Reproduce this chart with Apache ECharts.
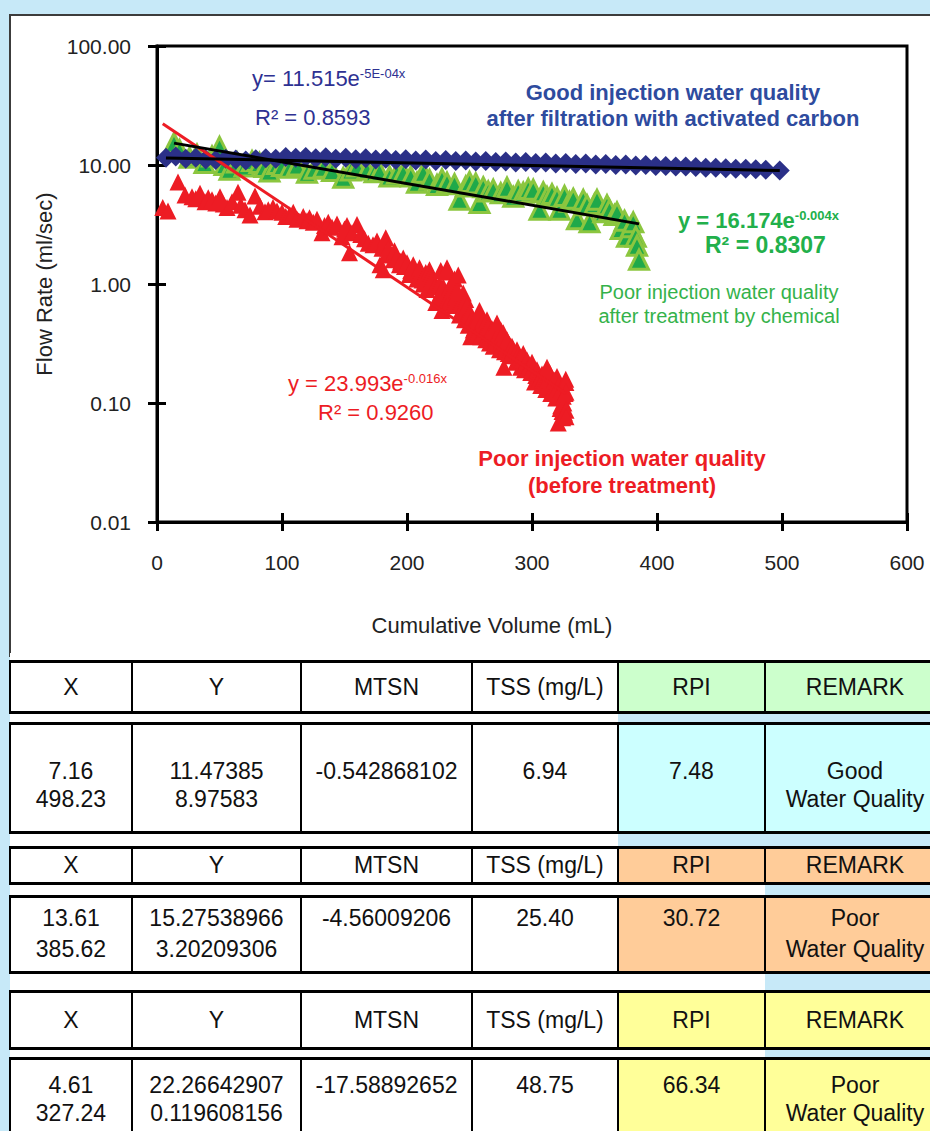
<!DOCTYPE html>
<html>
<head>
<meta charset="utf-8">
<script src="https://cdn.jsdelivr.net/npm/echarts/dist/echarts.min.js"></script>
<style>
    body { margin: 0; width: 930px; height: 1131px; overflow: hidden; background: #c7e9f8; position: relative;
        font-family: 'Liberation Sans', Arial, sans-serif; }
    #panel { position: absolute; left: 9px; top: 14px; width: 940px; height: 639px; background: #fff; border: 2px solid #3c3c3c; }
    #chart { position: absolute; left: 0; top: 0; width: 930px; height: 660px; }
    .wb { position: absolute; background: #fff; }
    .cell { position: absolute; box-sizing: border-box; border: 3px solid #000; border-left-width: 2px; border-right-width: 2px;
        font-size: 23px; color: #111; text-align: center; }
    .head { display: flex; align-items: center; justify-content: center; }
</style>
</head>
<body>
<div id="panel"></div>
<div class="wb" style="left:10px;top:653px;width:925px;height:8px"></div>
<div class="wb" style="left:10px;top:655px;width:608px;height:193px"></div>
<div class="wb" style="left:10px;top:847px;width:755px;height:284px"></div>
<div id="tables"></div>
<div id="chart"></div>
<script>
    // 数据
    var bluePts = [[7.2, 11.5], [15, 11.8], [23, 11.3], [31, 11.5], [39, 11.1], [47, 11.0], [55, 11.3], [63, 11.1], [71, 10.9], [79, 11.2],
        [87, 11.4], [95, 11.3], [103, 11.7], [111, 11.5], [119, 11.7], [127, 11.4], [135, 11.6], [143, 11.3], [151, 11.5], [159, 11.2],
        [167, 11.4], [175, 11.1], [183, 11.3], [191, 11.0], [199, 11.2], [207, 10.9], [215, 11.1], [223, 10.8], [231, 11.0], [239, 10.8],
        [247, 10.9], [255, 10.7], [263, 10.8], [271, 10.6], [279, 10.7], [287, 10.5], [295, 10.6], [303, 10.4], [311, 10.5], [319, 10.3],
        [327, 10.4], [335, 10.2], [343, 10.3], [351, 10.1], [359, 10.2], [367, 10.0], [375, 10.1], [383, 9.9], [391, 10.0], [399, 9.8],
        [407, 9.8], [415, 9.7], [423, 9.7], [431, 9.6], [439, 9.5], [447, 9.5], [455, 9.4], [463, 9.3], [471, 9.3], [479, 9.2],
        [487, 9.1], [498.2, 8.98]];
    var greenPts = [[13.6, 15.3], [18, 13.4], [26, 11.5], [32, 12.2], [38, 10.4], [44, 11.8], [50, 14.2], [54, 10.0], [58, 9.1], [64, 10.5],
        [70, 9.7], [76, 10.8], [82, 10.4], [86, 9.6], [90, 8.8], [96, 10.2], [100, 9.8], [106, 9.5], [112, 9.9], [120, 8.6],
        [126, 9.3], [133, 9.5], [140, 8.9], [149, 7.8], [155, 9.0], [160, 9.7], [168, 9.1], [174, 8.7], [178, 8.8], [186, 8.0],
        [192, 8.5], [197, 8.6], [203, 8.0], [208, 7.1], [213, 8.6], [218, 7.5], [224, 6.8], [228, 7.6], [232, 7.1], [238, 6.9],
        [242, 5.1], [247, 6.6], [250, 7.2], [255, 7.0], [258, 4.8], [261, 6.5], [265, 6.0], [269, 6.2], [275, 5.8], [280, 6.45],
        [285, 5.4], [289, 6.0], [293, 5.85], [297, 6.3], [301, 6.2], [306, 4.2], [309, 5.9], [312, 5.4], [316, 5.7], [320, 5.3],
        [322, 4.2], [326, 5.5], [330, 4.9], [333, 5.2], [336, 3.5], [341, 5.1], [344, 4.6], [346, 3.3], [350, 4.7], [352, 5.1],
        [357, 4.0], [360, 4.6], [362, 4.2], [366, 3.8], [368, 4.0], [371, 2.9], [374, 3.4], [376, 2.5], [379, 3.0], [381, 3.3],
        [383, 2.5], [384, 2.1], [385.6, 1.6]];
    var redPts = [[4.6, 4.4], [8.8, 4.1], [16.8, 7.2], [22.4, 5.6], [28, 5.4], [31, 5.2], [34.4, 5.8], [38.4, 4.9], [41, 5.3], [44, 5.1],
        [47, 4.8], [50.4, 5.4], [53, 4.7], [56, 4.4], [60, 4.9], [64.8, 5.9], [67, 4.6], [70.4, 4.2], [74.4, 3.8], [78.4, 5.5],
        [82.4, 4.5], [86.4, 4.05], [89, 4.2], [92.8, 4.4], [96, 4.1], [100, 4.0], [103, 3.7], [106, 3.8], [109, 4.0], [112, 3.5],
        [117, 3.7], [120, 3.4], [122, 3.6], [125, 3.3], [128, 3.5], [132, 2.7], [134, 3.1], [137, 3.3], [140, 3.0], [144, 3.2],
        [148, 2.5], [150, 2.9], [152, 3.1], [154, 1.83], [156, 2.7], [160, 3.16], [163, 2.6], [166, 2.4], [169, 2.2], [172.8, 2.14],
        [176, 2.3], [178.4, 1.45], [180, 2.0], [181, 1.32], [183, 2.45], [184, 1.8], [185, 2.0], [187, 1.75], [189, 1.6], [190, 1.9],
        [192, 1.69], [194, 1.45], [195, 1.55], [197, 1.65], [198, 1.4], [200, 1.51], [202, 1.2], [203, 1.3], [205, 1.45], [206, 1.2],
        [208, 1.1], [210, 1.37], [212, 1.08], [213, 1.0], [215, 1.25], [216, 0.9], [218, 1.32], [219, 1.2], [220, 1.1], [222, 0.95],
        [223, 0.7], [225, 0.78], [226, 1.0], [227, 1.3], [228, 0.6], [229, 0.95], [230, 0.85], [231, 0.7], [232, 1.37], [233, 1.26],
        [234, 0.95], [235, 0.75], [236, 0.89], [237, 0.66], [238, 1.1], [239, 0.78], [240, 0.89], [241, 1.19], [242, 0.55], [243, 0.7],
        [244, 0.62], [245, 0.84], [246, 0.5], [247, 0.74], [248, 0.65], [249, 0.45], [250, 0.57], [251, 0.36], [252, 0.52], [253, 0.41],
        [254, 0.43], [255, 0.5], [256, 0.38], [257, 0.52], [258, 0.6], [259, 0.36], [260, 0.45], [261, 0.5], [262, 0.4], [263, 0.34],
        [264, 0.5], [265, 0.44], [266, 0.32], [267, 0.38], [268, 0.42], [269, 0.3], [270, 0.37], [271, 0.35], [272, 0.47], [273, 0.32],
        [274, 0.28], [275, 0.41], [276, 0.33], [277, 0.39], [277.5, 0.2], [278, 0.27], [279, 0.3], [280, 0.34], [281, 0.26], [282, 0.31],
        [283, 0.25], [284, 0.3], [285, 0.28], [286, 0.26], [287, 0.22], [288, 0.28], [289, 0.25], [290, 0.24], [291, 0.2], [292, 0.23],
        [293, 0.26], [294, 0.19], [295, 0.22], [296, 0.23], [297, 0.2], [298, 0.21], [299, 0.18], [300, 0.22], [301, 0.2], [302, 0.15],
        [303, 0.17], [304, 0.19], [305, 0.17], [306, 0.158], [307, 0.14], [308, 0.175], [309, 0.16], [310, 0.15], [311, 0.13], [312, 0.2],
        [313, 0.16], [314, 0.18], [315, 0.12], [316, 0.14], [317, 0.13], [318, 0.155], [319, 0.11], [320, 0.167], [320.5, 0.138], [321, 0.068],
        [321.5, 0.14], [322, 0.12], [322.5, 0.09], [323, 0.095], [323.5, 0.13], [324, 0.085], [324.5, 0.075], [325, 0.114], [325.5, 0.1],
        [326, 0.0825], [326.5, 0.12], [327, 0.158], [327.1, 0.149], [327.2, 0.123], [327.2, 0.087], [327.2, 0.0765]];
    // 趋势线端点 (表格中的 X / Y)
    var blueTrend = [[7.16, 11.47385], [498.23, 8.97583]];
    var greenTrend = [[13.61, 15.27538966], [385.62, 3.20209306]];
    var redTrend = [[4.61, 22.26642907], [327.24, 0.119608156]];

    // 表格
    var tableHeads = ['X', 'Y', 'MTSN', 'TSS (mg/L)', 'RPI', 'REMARK'];
    var goodRow = [['7.16', '498.23'], ['11.47385', '8.97583'], ['-0.542868102'], ['6.94'], ['7.48'], ['Good', 'Water Quality']];
    var chemRow = [['13.61', '385.62'], ['15.27538966', '3.20209306'], ['-4.56009206'], ['25.40'], ['30.72'], ['Poor', 'Water Quality']];
    var poorRow = [['4.61', '327.24'], ['22.26642907', '0.119608156'], ['-17.58892652'], ['48.75'], ['66.34'], ['Poor', 'Water Quality']];

    var colX = [10, 132, 301, 472, 618, 765, 945];
    var box = document.getElementById('tables');

    function addRow(top, height, cells, colors, isHead, padTop, lineH) {
        for (var i = 0; i < 6; i++) {
            var c = document.createElement('div');
            c.className = isHead ? 'cell head' : 'cell';
            c.style.left = (colX[i] - 1) + 'px';
            c.style.width = (colX[i + 1] - colX[i] + 2) + 'px';
            c.style.top = top + 'px';
            c.style.height = height + 'px';
            c.style.background = colors[i];
            if (isHead) {
                c.textContent = cells[i];
            } else {
                c.style.paddingTop = padTop + 'px';
                c.style.lineHeight = lineH + 'px';
                c.innerHTML = cells[i].join('<br>');
            }
            box.appendChild(c);
        }
    }
    function colors(c) { return ['#fff', '#fff', '#fff', '#fff', c, c]; }

    addRow(660, 54, tableHeads, colors('#ccffcc'), true);
    addRow(722, 112, goodRow, colors('#ccffff'), false, 32, 28);
    addRow(846, 39, tableHeads, colors('#ffcc99'), true);
    addRow(895, 79, chemRow, colors('#ffcc99'), false, 5, 31);
    addRow(990, 60, tableHeads, colors('#ffff99'), true);
    addRow(1057, 100, poorRow, colors('#ffff99'), false, 11, 28);

    // 图表
    var myChart = echarts.init(document.getElementById('chart'), null, {renderer: 'svg'});
    var ff = "'Liberation Sans', Arial, sans-serif";
    var navy = '#2e3192', green = '#22b04b', red = '#ed1c24';

    function txt(x, y, text, color, size, weight, align, rich) {
        var r = {
            a: {fontSize: size, fontWeight: weight, fontFamily: ff, fill: color},
            s: {fontSize: Math.round(size * 0.6), fontWeight: weight, fontFamily: ff, fill: color, verticalAlign: 'top'}
        };
        return {
            type: 'text', x: x, y: y, z: 100,
            style: {
                text: text, rich: rich ? r : undefined, fill: color, fontSize: size, fontWeight: weight, fontFamily: ff,
                textAlign: align, textVerticalAlign: 'middle'
            }
        };
    }

    var axisCommon = {
        axisLine: {show: true, lineStyle: {color: '#000', width: 3}},
        axisTick: {show: true, length: 9, lineStyle: {color: '#000', width: 3}},
        splitLine: {show: false}
    };

    var option = {
        animation: false,
        grid: {left: 157, top: 46, width: 750, height: 476, show: true, borderColor: '#000', borderWidth: 3},
        xAxis: [
            Object.assign({}, axisCommon, {
                type: 'value', min: 0, max: 600, interval: 100,
                axisLabel: {margin: 30, fontSize: 21, color: '#222', fontFamily: ff, showMaxLabel: true}
            }),
            {
                type: 'value', min: 0, max: 600, interval: 100, position: 'bottom',
                axisLine: {show: false}, axisLabel: {show: false}, splitLine: {show: false},
                axisTick: {show: true, inside: true, length: 9, lineStyle: {color: '#000', width: 3}}
            }
        ],
        yAxis: [
            Object.assign({}, axisCommon, {
                type: 'log', logBase: 10, min: 0.01, max: 100,
                name: 'Flow Rate (ml/sec)', nameLocation: 'middle', nameGap: 97,
                nameTextStyle: {fontSize: 22, color: '#222', fontFamily: ff},
                axisLabel: {
                    margin: 26, fontSize: 21, color: '#222', fontFamily: ff,
                    formatter: function (v) { return Number(v).toFixed(2); }
                }
            }),
            {
                type: 'log', logBase: 10, min: 0.01, max: 100, position: 'left',
                axisLine: {show: false}, axisLabel: {show: false}, splitLine: {show: false},
                axisTick: {show: true, inside: true, length: 9, lineStyle: {color: '#000', width: 3}}
            }
        ],
        graphic: [
            txt(252, 78, '{a|y= 11.515e}{s|-5E-04x}', navy, 22, 'normal', 'left', true),
            txt(255, 117, 'R² = 0.8593', navy, 22, 'normal', 'left'),
            txt(673, 92, 'Good injection water quality', '#2e4b9e', 22, 'bold', 'center'),
            txt(673, 118, 'after filtration with activated carbon', '#2e4b9e', 22, 'bold', 'center'),
            txt(678, 220, '{a|y = 16.174e}{s|-0.004x}', green, 22, 'bold', 'left', true),
            txt(705, 245, 'R² = 0.8307', green, 23, 'bold', 'left'),
            txt(719, 292, 'Poor injection water quality', '#34b24a', 20, 'normal', 'center'),
            txt(719, 316, 'after treatment by chemical', '#34b24a', 20, 'normal', 'center'),
            txt(288, 383, '{a|y = 23.993e}{s|-0.016x}', red, 22, 'normal', 'left', true),
            txt(318, 412, 'R² = 0.9260', red, 22, 'normal', 'left'),
            txt(622, 458, 'Poor injection water quality', red, 22, 'bold', 'center'),
            txt(622, 485, '(before treatment)', red, 22, 'bold', 'center'),
            txt(492, 625, 'Cumulative Volume (mL)', '#222', 22, 'normal', 'center')
        ],
        series: [
            {
                type: 'scatter', data: greenPts, symbol: 'triangle', symbolSize: 19, z: 2,
                itemStyle: {color: '#1fa94a', borderColor: '#8cc63f', borderWidth: 3, opacity: 1}
            },
            {
                type: 'scatter', data: bluePts, symbol: 'diamond', symbolSize: 20, z: 3,
                itemStyle: {color: '#2b3088', opacity: 1}
            },
            {
                type: 'scatter', data: redPts, symbol: 'triangle', symbolSize: 17, z: 4,
                itemStyle: {color: red, opacity: 1}
            },
            {type: 'line', data: redTrend, symbol: 'none', z: 5, lineStyle: {color: red, width: 3}},
            {type: 'line', data: blueTrend, symbol: 'none', z: 6, lineStyle: {color: '#000', width: 3}},
            {type: 'line', data: greenTrend, symbol: 'none', z: 6, lineStyle: {color: '#000', width: 3}}
        ]
    };
    myChart.setOption(option);
</script>
</body>
</html>
